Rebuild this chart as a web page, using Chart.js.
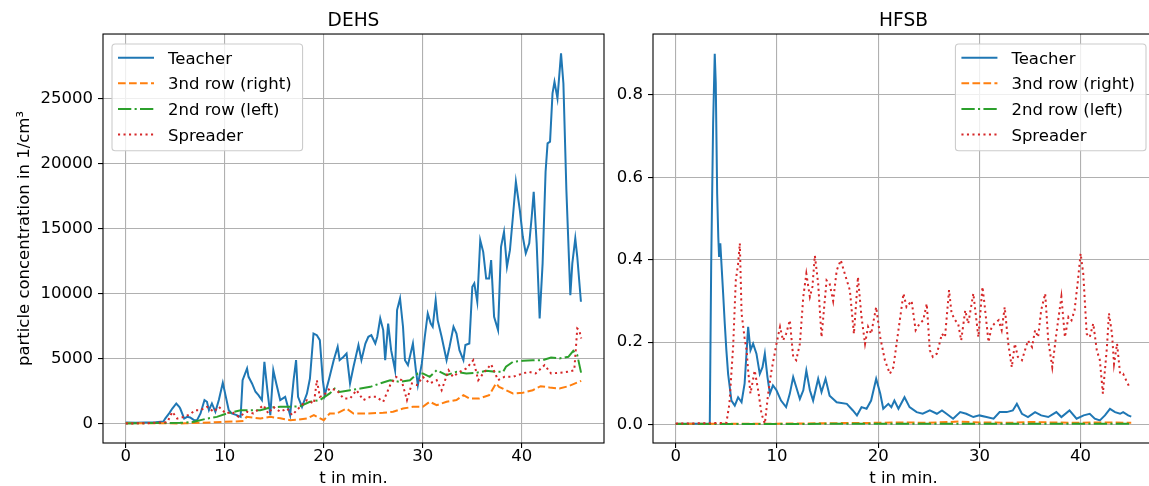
<!DOCTYPE html>
<html>
<head>
<meta charset="utf-8">
<script src="https://cdn.jsdelivr.net/npm/chart.js@4"></script>
<style>
html, body { margin: 0; padding: 0; overflow: hidden; background: #fff; width: 1149px; height: 486px; }
canvas { position: absolute; top: 0; }
#chart1 { left: 0; }
#chart2 { left: 610px; }
</style>
</head>
<body>
<canvas id="chart1" width="610" height="486"></canvas>
<canvas id="chart2" width="560" height="486"></canvas>
<script>
// ---- data ----
const seriesLabels = ['Teacher', '3nd row (right)', '2nd row (left)', 'Spreader'];
const xTicks = [0, 10, 20, 30, 40];
const dehsTicks = [0, 5000, 10000, 15000, 20000, 25000];
const hfsbTicks = [0, 0.2, 0.4, 0.6, 0.8];

// DEHS
const dehsTeacherT = [0,1,2,3,3.8,4.0,4.4,4.7,5.1,5.4,5.5,5.9,6.2,6.5,6.9,7.2,7.55,7.95,8.2,8.4,8.7,9.05,9.4,9.8,10.07,10.4,10.7,11.2,11.6,11.8,12.25,12.4,12.75,13.1,13.4,13.75,14.0,14.3,14.6,14.9,15.2,15.6,16.1,16.6,16.95,17.2,17.4,17.8,18.3,18.6,18.96,19.3,19.6,19.9,20.1,20.5,21.0,21.4,21.6,22.0,22.3,22.65,23.0,23.5,23.8,24.2,24.5,24.8,25.2,25.4,25.7,26.0,26.2,26.5,26.8,27.2,27.4,27.7,28.0,28.2,28.5,29.0,29.3,29.5,29.9,30.2,30.5,30.8,31.0,31.3,31.5,31.9,32.4,32.7,33.1,33.4,33.7,34.1,34.3,34.7,35.0,35.2,35.5,35.8,36.1,36.4,36.7,36.9,37.2,37.6,37.9,38.2,38.5,38.8,39.1,39.4,39.8,40.1,40.4,40.75,41.0,41.2,41.5,41.8,42.1,42.4,42.6,42.85,43.1,43.3,43.6,43.96,44.2,44.5,44.9,45.1,45.4,45.6,45.97];
const dehsTeacherV = [80,60,70,90,150,400,800,1150,1540,1280,1150,380,510,460,256,260,770,1800,1670,1025,1540,900,1800,3130,2180,1025,770,640,510,3330,4230,3590,3080,2440,2180,1800,4740,2560,640,4100,3080,1800,2050,640,3330,4870,2050,1280,2300,3460,6920,6790,6410,3330,2180,3330,4870,5900,4870,5130,5380,3080,4360,6030,4870,6150,6670,6790,6150,6670,8080,7180,4870,7690,5640,4100,8720,9620,7440,4870,4490,6150,4100,2950,4620,6670,8460,7690,7440,9490,7950,6670,4870,5900,7440,6920,5640,4870,6030,6150,10510,10770,9360,14100,13200,11150,11150,12560,8200,7180,13590,14740,12050,13330,15900,18590,16410,14360,13080,13850,15900,17820,13850,8080,12310,19360,21540,21670,25380,26280,25000,28460,26150,17950,9870,12310,14230,12820,9360];

const dehsRow3T = [0,2,4,5.2,6,7.55,9,10,11,11.9,12.2,13.6,14.6,15.6,16.6,17.5,18.3,19,20,20.6,21.3,22.3,23,24.3,26,27,28,29,30,30.7,31.4,32.4,33.4,34.1,34.7,35.7,36.7,37.4,37.7,38.4,39.1,40.1,41.1,41.9,42.8,43.8,44.7,46];
const dehsRow3V = [30,20,20,0,20,50,100,130,150,200,510,380,510,400,256,300,380,640,256,770,770,1150,770,770,820,900,1150,1280,1280,1670,1410,1670,1800,2180,1920,1920,2180,3080,2820,2560,2310,2360,2560,2870,2770,2690,2870,3280];

const dehsRow2T = [0,2,4,5.5,6.9,8.2,9.2,10.2,11.6,12.6,13.6,14.6,15.6,16.6,17.6,18.6,19.6,20.6,21.1,21.6,22.65,23.7,24.7,25.7,26.7,27.7,28.7,29.5,30,30.7,31.4,32.4,33.4,34.4,35.4,36.4,37.4,38.1,38.4,39.1,40.1,41.1,42.1,42.95,43.8,44.7,45.2,45.6,46];
const dehsRow2V = [0,30,30,50,130,380,510,770,1025,1025,1025,1230,1280,1280,1330,1670,1800,2310,2690,2430,2560,2690,2820,3080,3330,3200,3330,3850,3850,3590,4100,3720,3970,3850,3900,4050,3970,3970,4360,4740,4820,4870,4870,5080,5000,5130,5590,5260,3850];

const dehsSpreaderT = [0,2,4.2,4.7,5.2,5.9,6.5,7.0,7.55,8.2,8.9,9.4,10.1,10.7,11.4,12.25,12.9,13.9,14.4,14.9,15.6,16.3,16.8,17.6,18.3,19.0,19.3,19.6,20.0,20.6,21.3,22.0,22.65,23.3,24.0,24.7,25.3,26.0,26.7,27.3,27.85,28.4,28.9,29.4,30,30.7,31.4,31.9,32.6,33.05,33.7,34.4,35.1,35.6,36.1,36.9,37.6,38.25,39.1,40.1,40.75,41.4,42.3,42.95,43.8,44.6,45.3,45.6,45.8,46];
const dehsSpreaderV = [0,20,100,900,380,510,720,1025,1025,1280,900,1280,770,900,510,900,770,1410,770,1280,900,1150,640,1280,1800,1540,3330,2050,2180,2690,2560,1920,1920,2560,1800,2050,2050,1670,2950,3590,3330,1800,3080,2950,3590,3080,3330,2560,4100,3590,3970,4230,4870,3330,3850,4560,3330,3590,3590,3850,3970,3850,4490,3850,3900,3970,4100,7300,7180,6540];

// HFSB
const hfsbTeacherT = [0,3.36,3.5,3.69,3.85,3.95,4.09,4.2,4.28,4.4,4.55,4.68,4.84,5.0,5.17,5.5,5.83,6.16,6.5,6.8,7.15,7.38,7.64,7.97,8.3,8.57,8.8,9.06,9.3,9.6,9.95,10.4,10.9,11.27,11.6,11.9,12.26,12.6,12.9,13.25,13.57,14.07,14.4,14.8,15.2,15.9,16.9,17.5,17.9,18.35,18.85,19.3,19.8,20.2,20.5,21.0,21.3,21.6,22.0,22.6,23.1,23.8,24.4,25.1,25.8,26.3,26.75,27.4,28.1,28.7,29.4,30,30.7,31.4,32.0,32.7,33.3,33.7,34.2,34.8,35.5,36.1,36.8,37.6,38.1,38.9,39.6,40.3,40.9,41.4,41.9,42.4,42.9,43.4,43.9,44.2,44.7,45.0];
const hfsbTeacherV = [0.002,0.002,0.39,0.73,0.90,0.83,0.56,0.455,0.407,0.44,0.374,0.318,0.245,0.18,0.123,0.058,0.046,0.066,0.054,0.099,0.237,0.18,0.196,0.172,0.123,0.139,0.172,0.115,0.075,0.095,0.083,0.058,0.042,0.075,0.115,0.091,0.062,0.083,0.131,0.083,0.058,0.111,0.079,0.111,0.07,0.054,0.05,0.034,0.022,0.042,0.038,0.058,0.111,0.075,0.038,0.05,0.042,0.058,0.038,0.066,0.042,0.03,0.026,0.034,0.026,0.034,0.026,0.014,0.03,0.026,0.018,0.022,0.018,0.014,0.03,0.03,0.034,0.05,0.026,0.018,0.03,0.022,0.018,0.03,0.018,0.034,0.014,0.022,0.026,0.014,0.01,0.022,0.038,0.03,0.026,0.03,0.022,0.019];

const hfsbRow3T = [0,5,10,15,20,22,25,27,28,30,33,35,37,40,42,45];
const hfsbRow3V = [0.002,0.002,0.002,0.003,0.004,0.005,0.004,0.006,0.007,0.005,0.004,0.006,0.005,0.004,0.005,0.004];

const hfsbRow2T = [0,10,20,30,40,45];
const hfsbRow2V = [0.001,0.001,0.002,0.002,0.002,0.002];

const hfsbSpreaderT = [0,3,5.0,5.3,5.67,5.93,6.16,6.33,6.5,6.8,7.0,7.15,7.38,7.8,8.14,8.47,8.8,9.13,9.46,9.95,10.3,10.6,10.9,11.27,11.6,11.9,12.26,12.6,12.9,13.25,13.5,13.74,14.07,14.4,14.9,15.2,15.55,15.9,16.3,16.7,17.2,17.6,18.0,18.35,18.7,19.0,19.3,19.8,20.2,20.66,21.15,21.5,22.0,22.5,22.8,23.3,23.7,24.1,24.45,24.8,25.1,25.4,25.8,26.3,26.6,27.0,27.25,27.6,27.9,28.2,28.6,28.9,29.4,29.9,30.3,30.5,30.9,31.2,31.5,31.9,32.2,32.5,32.85,33.2,33.5,33.8,34.2,34.5,34.8,35.2,35.5,35.8,36.1,36.5,36.8,37.2,37.6,38.1,38.45,38.8,39.1,39.4,39.7,40.0,40.26,40.6,40.9,41.25,41.6,41.9,42.2,42.6,42.8,43.1,43.3,43.6,43.9,44.2,44.5,44.9];
const hfsbSpreaderV = [0.002,0.003,0.004,0.05,0.19,0.35,0.39,0.44,0.27,0.21,0.18,0.131,0.075,0.131,0.083,0.026,0.002,0.075,0.131,0.196,0.237,0.204,0.22,0.253,0.164,0.156,0.196,0.31,0.366,0.31,0.334,0.41,0.342,0.212,0.35,0.342,0.30,0.374,0.399,0.366,0.326,0.22,0.358,0.261,0.196,0.237,0.22,0.285,0.212,0.156,0.123,0.139,0.229,0.318,0.285,0.30,0.229,0.245,0.253,0.293,0.18,0.164,0.172,0.22,0.212,0.326,0.27,0.253,0.245,0.204,0.277,0.245,0.318,0.212,0.334,0.293,0.2,0.237,0.245,0.253,0.229,0.285,0.196,0.139,0.196,0.164,0.156,0.18,0.204,0.188,0.229,0.212,0.277,0.318,0.204,0.139,0.22,0.31,0.212,0.261,0.253,0.277,0.342,0.415,0.366,0.22,0.212,0.245,0.18,0.156,0.075,0.188,0.27,0.22,0.147,0.196,0.123,0.123,0.107,0.087];

// ---- styles (matplotlib look) ----
Chart.defaults.font.family = "'DejaVu Sans', sans-serif";
Chart.defaults.font.size = 16.5;
Chart.defaults.color = '#000';

const colors = ['#1f77b4', '#ff7f0e', '#2ca02c', '#d62728'];
const dashes = [[], [7.7, 3.3], [13.3, 3.3, 2.1, 3.3], [2.1, 3.4]];

function pts(t, v) {
  return t.map((x, i) => ({ x: x, y: v[i] }));
}

function makeSets(series) {
  return series.map((s, i) => ({
    label: seriesLabels[i],
    data: pts(s[0], s[1]),
    borderColor: colors[i],
    borderWidth: 2,
    borderDash: dashes[i],
    pointRadius: 0,
    fill: false,
    tension: 0,
    order: 4 - i // later series on top, like matplotlib
  }));
}

// frame + matplotlib style legend box
const mplLegend = {
  id: 'mplLegend',
  afterDatasetsDraw(chart, args, opts) {
    const ctx = chart.ctx, a = chart.chartArea;
    ctx.save();
    ctx.strokeStyle = '#000';
    ctx.lineWidth = 1.1;
    ctx.strokeRect(a.left, a.top, a.right - a.left, a.bottom - a.top);

    ctx.font = "16.5px 'DejaVu Sans'";
    const sets = chart.data.datasets;
    const textW = Math.max(...sets.map(d => ctx.measureText(d.label).width));
    const w = 56 + textW + 11, h = 106.7;
    const x = opts.side === 'left' ? a.left + 9 : a.right - 8 - w;
    const y = a.top + 10;
    ctx.beginPath();
    ctx.roundRect(x, y, w, h, 3.3);
    ctx.fillStyle = 'rgba(255,255,255,0.8)';
    ctx.fill();
    ctx.strokeStyle = '#cccccc';
    ctx.lineWidth = 1.1;
    ctx.stroke();
    sets.forEach((d, i) => {
      const ry = y + 13.7 + i * 25.6;
      ctx.beginPath();
      ctx.setLineDash(d.borderDash);
      ctx.strokeStyle = d.borderColor;
      ctx.lineWidth = d.borderWidth;
      ctx.moveTo(x + 6, ry);
      ctx.lineTo(x + 42, ry);
      ctx.stroke();
      ctx.setLineDash([]);
      ctx.fillStyle = '#000';
      ctx.textBaseline = 'alphabetic';
      ctx.textAlign = 'left';
      ctx.fillText(d.label, x + 56, ry + 6);
    });
    ctx.restore();
  }
};

const gridStyle = { color: '#b0b0b0', lineWidth: 1.1, tickColor: '#000', tickLength: 5, tickWidth: 1.1 };

function xAxis(min, max) {
  return {
    type: 'linear', min: min, max: max,
    afterBuildTicks: ax => { ax.ticks = xTicks.map(v => ({ value: v })); },
    afterFit: ax => { ax.height = 43; },
    grid: gridStyle,
    border: { display: false },
    ticks: { padding: 0, font: { size: 16.5, lineHeight: 1 }, maxRotation: 0, autoSkip: false, callback: v => String(v) },
    title: { display: true, text: 't in min.', font: { size: 16.5, lineHeight: 1.2 }, padding: { top: 0, bottom: -3 } }
  };
}

function yAxis(min, max, ticks, width, fmt, title) {
  return {
    type: 'linear', min: min, max: max,
    afterBuildTicks: ax => { ax.ticks = ticks.map(v => ({ value: v })); },
    afterFit: ax => { ax.width = width; },
    grid: gridStyle,
    border: { display: false },
    ticks: { padding: 5, autoSkip: false, callback: fmt },
    title: title
      ? { display: true, text: title, font: { size: 16.5, lineHeight: 1.2 }, padding: { top: 15, bottom: 0 } }
      : { display: false }
  };
}

function titleOpts(text) {
  return {
    display: true, text: text, fullSize: false, color: '#000',
    font: { size: 18.6, weight: 'normal', lineHeight: 1.2 },
    padding: { top: 9.7, bottom: 2 }
  };
}

// DEHS
const dehsChart = new Chart(document.getElementById('chart1').getContext('2d'), {
  type: 'line',
  data: {
    datasets: makeSets([
      [dehsTeacherT, dehsTeacherV],
      [dehsRow3T, dehsRow3V],
      [dehsRow2T, dehsRow2V],
      [dehsSpreaderT, dehsSpreaderV]
    ])
  },
  options: {
    responsive: false,
    animation: false,
    devicePixelRatio: 1,
    layout: { padding: { left: 0, right: 6, top: 0, bottom: 0 } },
    scales: {
      x: xAxis(-2.3, 48.3),
      y: yAxis(-1500, 29950, dehsTicks, 103, v => String(v), 'particle concentration in 1/cm\u00b3')
    },
    plugins: {
      legend: { display: false },
      tooltip: { enabled: false },
      title: titleOpts('DEHS'),
      mplLegend: { side: 'left' }
    }
  },
  plugins: [mplLegend]
});

// HFSB
const hfsbChart = new Chart(document.getElementById('chart2').getContext('2d'), {
  type: 'line',
  data: {
    datasets: makeSets([
      [hfsbTeacherT, hfsbTeacherV],
      [hfsbRow3T, hfsbRow3V],
      [hfsbRow2T, hfsbRow2V],
      [hfsbSpreaderT, hfsbSpreaderV]
    ])
  },
  options: {
    responsive: false,
    animation: false,
    devicePixelRatio: 1,
    layout: { padding: { left: 0, right: 16, top: 0, bottom: 0 } },
    scales: {
      x: xAxis(-2.25, 47.25),
      y: yAxis(-0.045, 0.948, hfsbTicks, 43, v => v.toFixed(1), null)
    },
    plugins: {
      legend: { display: false },
      tooltip: { enabled: false },
      title: titleOpts('HFSB'),
      mplLegend: { side: 'right' }
    }
  },
  plugins: [mplLegend]
});
</script>
</body>
</html>
